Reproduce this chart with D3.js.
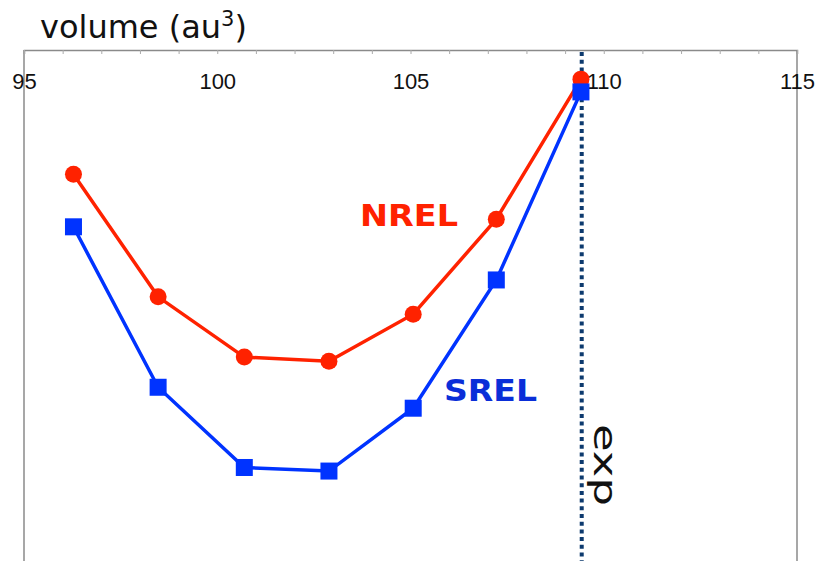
<!DOCTYPE html>
<html>
<head>
<meta charset="utf-8">
<script src="https://cdn.jsdelivr.net/npm/d3@7"></script>
<style>
  body { margin: 0; background: #fff; }
  svg { display: block; }
  .hand { font-family: "Comic Sans MS", "DejaVu Sans", sans-serif; }
</style>
</head>
<body>
<div id="chart"></div>
<script>
// data (y in arbitrary energy units, axis not labelled)
const volumes = [96.28, 98.47, 100.70, 102.89, 105.07, 107.22, 109.41];
const nrel = [75.7, 51.7, 39.9, 39.1, 48.3, 66.9, 94.3];
const srel = [65.4, 34.0, 18.3, 17.6, 29.9, 55.0, 91.8];
const exp_volume = 109.43;
const major_ticks = [95, 100, 105, 110, 115];
const minor_ticks = d3.range(95, 116, 1);

const W = 817, H = 561;
const margin = {top: 50, right: 20, bottom: 0, left: 24};
const width = W - margin.left - margin.right;
const height = H - margin.top - margin.bottom;

const svg = d3.select("#chart").append("svg")
    .attr("width", W)
    .attr("height", H);

const g = svg.append("g")
    .attr("transform", `translate(${margin.left},${margin.top})`);

const x = d3.scaleLinear().domain([95, 115]).range([0, width]);
const y = d3.scaleLinear().domain([0, 100]).range([height, 0]);

// frame lines left / right
g.append("line").attr("x1", 0).attr("x2", 0).attr("y1", 0).attr("y2", height)
    .attr("stroke", "#8a8a8a").attr("stroke-width", 1.5);
g.append("line").attr("x1", width).attr("x2", width).attr("y1", 0).attr("y2", height)
    .attr("stroke", "#8a8a8a").attr("stroke-width", 1.5);

// top axis: small inward ticks
const minorAxis = g.append("g")
    .call(d3.axisTop(x).tickValues(minor_ticks).tickSize(-4).tickFormat(""));
minorAxis.select(".domain").attr("stroke", "#8a8a8a").attr("stroke-width", 1.5);
minorAxis.selectAll(".tick line").attr("stroke", "#aaa");

// tick labels below the top line
const labelAxis = g.append("g")
    .attr("font-family", "'Liberation Sans', Arial, sans-serif")
    .attr("font-size", 22)
    .call(d3.axisBottom(x).tickValues(major_ticks).tickSize(0).tickPadding(23).tickFormat(d3.format("d")));
labelAxis.select(".domain").remove();
labelAxis.attr("font-family", "'Liberation Sans', Arial, sans-serif").attr("font-size", 22);
labelAxis.selectAll("text").attr("fill", "#111");

// exp vertical dotted line
g.append("line")
    .attr("x1", x(exp_volume)).attr("x2", x(exp_volume))
    .attr("y1", 2).attr("y2", height)
    .attr("stroke", "#0d3a6e").attr("stroke-width", 4)
    .attr("stroke-dasharray", "4,3.7");

const line = d3.line().x((d, i) => x(volumes[i])).y(d => y(d));

// NREL series
g.append("path").datum(nrel)
    .attr("fill", "none").attr("stroke", "#ff2200").attr("stroke-width", 3.5)
    .attr("d", line);
g.selectAll(".nrel-pt").data(nrel).join("circle")
    .attr("class", "nrel-pt")
    .attr("cx", (d, i) => x(volumes[i])).attr("cy", d => y(d))
    .attr("r", 8.5).attr("fill", "#ff2200");

// SREL series
g.append("path").datum(srel)
    .attr("fill", "none").attr("stroke", "#0033ff").attr("stroke-width", 3.5)
    .attr("d", line);
g.selectAll(".srel-pt").data(srel).join("rect")
    .attr("class", "srel-pt")
    .attr("x", (d, i) => x(volumes[i]) - 8.5).attr("y", d => y(d) - 8.5)
    .attr("width", 17).attr("height", 17).attr("fill", "#0033ff");

// labels
const title = svg.append("text").attr("class", "hand")
    .attr("x", 40).attr("y", 38)
    .attr("font-size", 32).attr("fill", "#111");
title.append("tspan").text("volume (au");
title.append("tspan").attr("baseline-shift", "super").attr("font-size", 21).text("3");
title.append("tspan").text(")");

svg.append("text").attr("class", "hand")
    .attr("x", 360).attr("y", 226)
    .attr("font-size", 31).attr("font-weight", "bold").attr("fill", "#ff2200")
    .attr("textLength", 98).attr("lengthAdjust", "spacingAndGlyphs")
    .text("NREL");

svg.append("text").attr("class", "hand")
    .attr("x", 444).attr("y", 401)
    .attr("font-size", 31).attr("font-weight", "bold").attr("fill", "#0a2ed8")
    .attr("textLength", 93).attr("lengthAdjust", "spacingAndGlyphs")
    .text("SREL");

svg.append("text").attr("class", "hand")
    .attr("transform", "translate(594,424) rotate(90)")
    .attr("font-size", 32).attr("fill", "#111")
    .attr("textLength", 82).attr("lengthAdjust", "spacingAndGlyphs")
    .text("exp");
</script>
</body>
</html>
